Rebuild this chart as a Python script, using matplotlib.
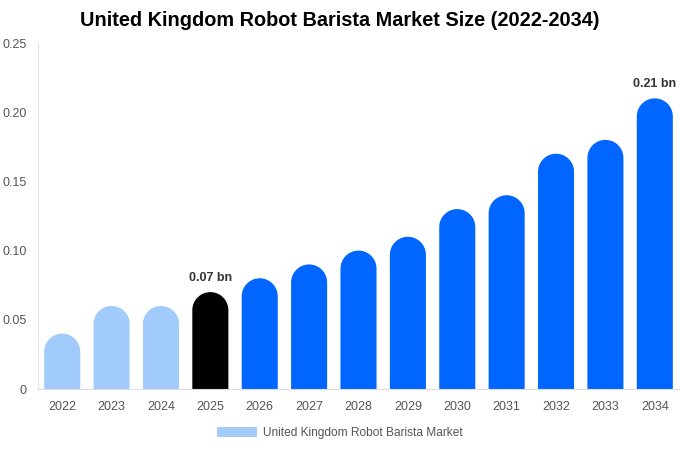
import numpy as np
import matplotlib.pyplot as plt
from matplotlib.patches import Patch, PathPatch
from matplotlib.path import Path

plt.rcParams['font.family'] = ['Liberation Sans', 'DejaVu Sans']

years = ['2022', '2023', '2024', '2025', '2026', '2027', '2028', '2029',
         '2030', '2031', '2032', '2033', '2034']
values = [0.04, 0.06, 0.06, 0.07, 0.08, 0.09, 0.10, 0.11, 0.13, 0.14, 0.17, 0.18, 0.21]
colors = ['#a0cbfb'] * 3 + ['#000000'] + ['#0066ff'] * 9
labels = {3: '0.07 bn', 12: '0.21 bn'}
yticks = [0, 0.05, 0.10, 0.15, 0.20, 0.25]
ytick_labels = ['0', '0.05', '0.10', '0.15', '0.20', '0.25']

fig = plt.figure(figsize=(6.8, 4.5), dpi=100)
ax = fig.add_axes([38 / 680, 1 - 389 / 450, 641 / 680, 346 / 450])
ax.set_xlim(-0.49, len(years) - 0.51)
ax.set_ylim(0, 0.25)

bw = 0.73
# pixel sizes so the rounded cap is a true semicircle
px_per_x = 641 / (ax.get_xlim()[1] - ax.get_xlim()[0])
px_per_y = 346 / 0.25
r_y = (bw * px_per_x / 2) / px_per_y
t = np.linspace(0, np.pi, 40)

for i, (v, c) in enumerate(zip(values, colors)):
    cy = v - r_y
    xs = np.concatenate([[i + bw / 2], i + bw / 2 * np.cos(t), [i - bw / 2]])
    ys = np.concatenate([[0], cy + r_y * np.sin(t), [0]])
    verts = list(zip(xs, ys)) + [(xs[0], ys[0])]
    codes = [Path.MOVETO] + [Path.LINETO] * (len(verts) - 2) + [Path.CLOSEPOLY]
    ax.add_patch(PathPatch(Path(verts, codes), facecolor=c, edgecolor='none'))
    if i in labels:
        ax.text(i, v + 0.006, labels[i], ha='center', va='bottom',
                fontsize=9, fontweight='bold', color='#333333')

ax.set_xticks(range(len(years)))
ax.set_xticklabels(years)
ax.set_yticks(yticks)
ax.set_yticklabels(ytick_labels)
ax.tick_params(axis='both', length=0, labelsize=9, colors='#555555')
ax.tick_params(axis='x', pad=9)
ax.tick_params(axis='y', pad=8)
for s in ['top', 'right']:
    ax.spines[s].set_visible(False)
ax.spines['left'].set_color('#e6e6e6')
ax.spines['bottom'].set_color('#dddddd')

fig.suptitle('United Kingdom Robot Barista Market Size (2022-2034)',
             fontsize=14.3, fontweight='bold', y=0.975)

handle = Patch(facecolor='#a0cbfb', edgecolor='none')
fig.legend([handle], ['United Kingdom Robot Barista Market'], loc='lower center',
           bbox_to_anchor=(0.5, 0.0), frameon=False, fontsize=8.6,
           labelcolor='#555555', handlelength=3.35, handleheight=0.9,
           handletextpad=0.5)

fig.savefig('out.png', dpi=100)
